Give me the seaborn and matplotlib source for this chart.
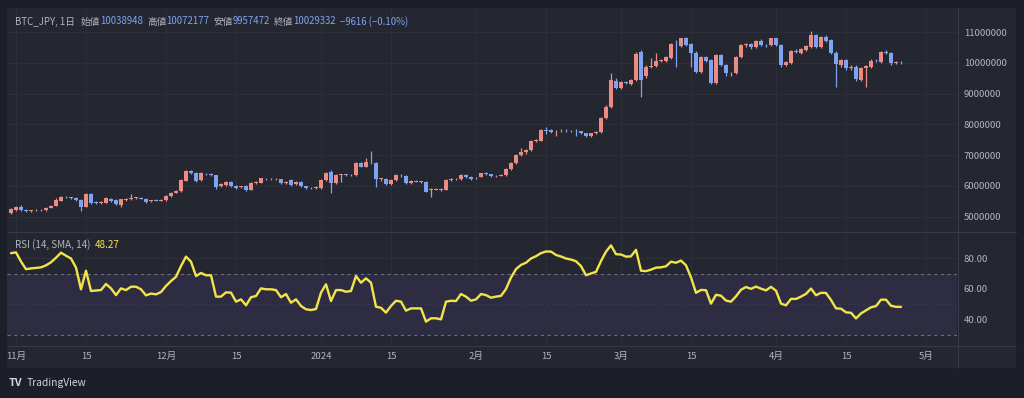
import numpy as np
import pandas as pd
import matplotlib
matplotlib.use("Agg")
import matplotlib.pyplot as plt
from matplotlib.lines import Line2D
from matplotlib.patches import Rectangle
import seaborn as sns

# ---------------- data (prices in 万円 = 10,000 JPY) ----------------
start_date = "2023-10-31"

opens = [510,522,532,521,518,520,522,521,529,535,
         552,564,562,560,554,532,573,546,543,545,
         558,553,538,554,558,560,561,557,549,553,
         552,554,567,577,583,617,649,643,619,640,
         638,634,601,602,614,600,595,599,587,609,
         610,623,622,621,621,608,619,605,613,599,
         592,594,593,619,646,610,635,637,635,635,
         675,662,679,673,621,621,605,619,635,632,
         610,615,613,613,585,588,590,587,619,621,
         621,635,630,624,630,641,638,632,633,635,
         654,673,700,710,718,746,747,781,782,777,
         779,780,779,780,778,771,762,771,775,820,
         856,941,917,937,932,945,1035,958,988,990,
         1008,1008,1015,1060,1056,1080,1062,1034,972,1018,
         1010,934,1026,993,966,968,1018,1059,1062,1051,
         1073,1059,1058,1080,1059,993,1001,1040,1034,1043,
         1053,1091,1051,1084,1075,1034,993,1010,983,988,
         945,983,988,1008,1004,1037,1032,1000,1004]

highs = [527,533,536,524,522,524,524,531,538,560,
         568,567,564,562,557,576,576,550,549,562,
         561,556,558,560,573,564,563,559,555,556,
         557,569,580,587,621,653,652,646,644,643,
         641,636,609,617,617,603,601,602,611,616,
         627,626,625,624,623,616,621,615,615,601,
         596,598,622,646,650,637,640,640,638,678,
         679,689,713,676,627,624,621,637,639,635,
         619,618,617,615,592,592,592,621,624,625,
         637,638,633,630,643,644,640,636,638,657,
         676,703,722,721,748,754,784,793,785,782,
         784,786,783,784,780,773,773,778,823,862,
         966,950,942,941,949,1035,1042,992,1015,1034,
         1014,1022,1064,1075,1083,1084,1066,1038,1022,1022,
         1014,1030,1030,996,972,1022,1062,1066,1065,1076,
         1077,1063,1083,1083,1062,1008,1043,1045,1048,1058,
         1105,1095,1088,1090,1078,1038,1014,1013,992,992,
         988,995,1012,1012,1040,1041,1035,1008,1007]

lows = [507,518,519,515,515,518,518,519,527,533,
        549,559,557,552,518,530,541,540,541,543,
        548,537,532,551,555,557,556,545,546,549,
        549,552,565,575,581,615,640,614,616,634,
        632,590,597,598,597,589,593,584,585,606,
        608,619,618,618,607,605,601,602,597,589,
        589,591,591,617,575,607,612,632,631,633,
        660,660,672,597,617,603,603,617,630,606,
        607,611,610,579,565,585,584,585,616,618,
        619,627,618,621,628,635,630,629,631,633,
        652,671,698,704,715,742,745,770,773,761,
        775,776,774,761,768,759,760,768,773,818,
        852,914,914,930,928,942,888,952,984,987,
        1003,1004,1012,988,1053,1055,988,967,968,1004,
        932,930,989,958,958,964,1015,1052,1046,1048,
        1055,1053,1055,1055,988,990,998,1032,1030,1040,
        1050,1050,1048,1070,1030,923,988,978,978,940,
        940,923,985,1003,1001,1028,995,996,996]

closes = [524,530,521,518,520,522,521,529,535,554,
          565,562,560,555,532,573,545,543,546,559,
          551,541,556,558,560,562,558,548,553,552,
          554,567,578,584,619,649,643,617,641,638,
          636,597,605,614,600,593,598,587,608,612,
          624,622,621,622,610,614,603,613,600,592,
          594,596,620,643,610,635,638,635,636,675,
          662,679,677,621,624,605,619,635,634,608,
          617,613,615,581,589,590,587,619,621,622,
          635,630,621,627,641,638,632,633,635,655,
          673,700,710,718,746,748,782,780,776,779,
          780,779,780,778,771,762,771,775,820,858,
          943,917,939,934,946,1029,945,988,990,1008,
          1010,1018,1062,1058,1080,1059,1031,972,1018,1008,
          936,1026,993,966,968,1018,1059,1062,1051,1073,
          1059,1058,1080,1059,993,1004,1040,1037,1045,1055,
          1091,1053,1084,1073,1034,997,1010,983,988,947,
          983,990,1008,1006,1037,1032,999,1004,1003]

rsi = [83.5,84.0,78.0,73.0,73.5,73.8,74.2,75.5,77.5,80.5,
       83.8,81.8,80.0,74.0,59.8,72.0,58.7,59.0,59.3,63.3,
       60.4,56.0,60.4,59.3,61.5,61.5,59.8,55.8,57.0,56.5,
       58.0,62.0,65.2,68.0,75.0,81.2,77.9,68.5,70.5,69.0,
       69.0,55.0,55.0,57.8,57.6,51.7,53.2,49.3,54.6,55.4,
       60.4,59.8,59.8,59.3,54.6,56.7,51.0,53.2,48.9,46.7,
       46.2,46.9,57.6,63.1,52.1,59.3,59.3,58.2,58.7,68.5,
       64.1,67.0,64.1,48.4,47.7,44.5,48.9,52.3,51.7,45.8,
       47.3,47.3,47.3,38.6,40.8,40.8,40.1,51.7,52.3,52.1,
       56.7,55.0,52.3,53.2,56.7,56.0,54.3,55.0,55.5,60.0,
       67.5,73.0,75.8,77.2,80.0,81.5,83.5,84.6,84.5,82.3,
       81.3,80.0,79.3,78.2,75.0,69.0,70.2,71.2,78.3,84.5,
       88.6,82.8,82.6,81.2,81.4,85.7,72.0,71.7,72.7,74.0,
       74.2,74.9,77.9,77.2,78.6,75.5,67.6,57.5,59.4,59.2,
       50.4,56.2,55.6,52.4,51.7,55.2,59.5,61.3,60.1,61.6,
       60.2,59.1,61.4,58.9,50.4,49.3,53.5,53.5,55.0,56.8,
       60.3,55.9,57.5,57.4,52.8,47.3,47.1,44.7,44.4,40.7,
       44.0,46.0,48.0,48.8,53.0,53.0,49.0,48.3,48.27]

tick_dates = ["2023-11-01","2023-11-15","2023-12-01","2023-12-15","2024-01-01",
              "2024-01-15","2024-02-01","2024-02-15","2024-03-01","2024-03-15",
              "2024-04-01","2024-04-15","2024-05-01"]
tick_labels = ["11月","15","12月","15","2024","15","2月","15","3月","15","4月","15","5月"]
price_ticks = [5000000,6000000,7000000,8000000,9000000,10000000,11000000]
rsi_ticks = [40, 60, 80]
rsi_bands = [30, 70]
rsi_mid = 50

header_parts = [("BTC_JPY, 1日", "g"), ("始値", "g"), ("10038948", "v"),
                ("高値", "g"), ("10072177", "v"), ("安値", "g"), ("9957472", "v"),
                ("終値", "g"), ("10029332", "v"), ("−9616 (−0.10%)", "v")]
rsi_title = "RSI (14, SMA, 14)"
rsi_last = "48.27"

# ---------------- style ----------------
W, H = 1024, 398
OUTER = "#1c1f27"
CARD = "#242730"
GRID = "#2c2f3a"
SEP = "#363a46"
TXT = "#b2b5be"
UP = "#ec8a84"
DOWN = "#7fa3f2"
YEL = "#f2e54a"
BAND = "#2e2c43"

sns.set_theme(style="dark")
plt.rcParams['font.family'] = ['Noto Sans CJK JP', 'DejaVu Sans']
plt.rcParams['axes.unicode_minus'] = True

def fx(px):
    return px / W

def fy(py):
    return 1 - py / H

df = pd.DataFrame({"open": np.array(opens) * 1e4, "high": np.array(highs) * 1e4,
                   "low": np.array(lows) * 1e4, "close": np.array(closes) * 1e4,
                   "rsi": rsi})
df["date"] = pd.date_range(start_date, periods=len(df), freq="D")
df["i"] = np.arange(len(df))
df["up"] = df["close"] >= df["open"]
t0 = pd.Timestamp(start_date)
tick_pos = [(pd.Timestamp(d) - t0).days for d in tick_dates]

fig = plt.figure(figsize=(W / 100, H / 100), dpi=100)
fig.patch.set_facecolor(OUTER)
fig.add_artist(Rectangle((fx(7), fy(368)), fx(1016) - fx(7), fy(8) - fy(368),
                         transform=fig.transFigure, facecolor=CARD, edgecolor="none", zorder=0))

x0, x1 = -0.8, 189.2
ax = fig.add_axes([fx(7), fy(232), fx(957) - fx(7), fy(8) - fy(232)])
ax2 = fig.add_axes([fx(7), fy(345), fx(957) - fx(7), fy(233) - fy(345)])

for a in (ax, ax2):
    a.set_facecolor(CARD)
    for s in a.spines.values():
        s.set_visible(False)
    a.set_xlim(x0, x1)
    for p in tick_pos:
        a.axvline(p, color=GRID, lw=0.8, zorder=0.6)

# price pane
ax.set_ylim(449.6e4, 1179.1e4)
for v in price_ticks:
    ax.axhline(v, color=GRID, lw=0.8, zorder=0)
colors = np.where(df["up"], UP, DOWN)
ax.vlines(df["i"], df["low"], df["high"], colors=colors, lw=0.9, zorder=2)
body_bottom = np.minimum(df["open"], df["close"])
body_h = np.maximum(np.abs(df["close"] - df["open"]), 3500)
ax.bar(df["i"], body_h, bottom=body_bottom, width=0.74, color=colors, edgecolor="none", zorder=3)
ax.yaxis.tick_right()
ax.set_yticks(price_ticks)
ax.set_yticklabels([str(v) for v in price_ticks])
ax.tick_params(axis="y", length=0, pad=5, labelsize=6.9, labelcolor=TXT)
ax.set_xticks([])
ax.set_xlabel("")
ax.set_ylabel("")

# RSI pane
ax2.set_ylim(23.3, 96.7)
ax2.axhspan(rsi_bands[0], rsi_bands[1], color=BAND, lw=0, zorder=0.5)
for v in rsi_ticks:
    ax2.axhline(v, color=GRID, lw=0.8, zorder=0.6)
for b in rsi_bands:
    ax2.axhline(b, color="#6b6e79", lw=0.8, ls=(0, (3, 3)), zorder=1)
ax2.axhline(rsi_mid, color="#3d3c52", lw=0.7, ls=(0, (2, 3)), zorder=1)
sns.lineplot(data=df, x="i", y="rsi", ax=ax2, color=YEL, lw=1.7, zorder=4)
ax2.yaxis.tick_right()
ax2.set_yticks(rsi_ticks)
ax2.set_yticklabels([f"{v:.2f}" for v in rsi_ticks])
ax2.tick_params(axis="y", length=0, pad=5, labelsize=6.9, labelcolor=TXT)
ax2.set_xticks(tick_pos)
ax2.set_xticklabels(tick_labels)
ax2.tick_params(axis="x", length=0, pad=5, labelsize=6.9, labelcolor=TXT)
ax2.set_xlabel("")
ax2.set_ylabel("")

# separators
for (xa, ya, xb, yb) in [(7, 232.5, 1016, 232.5), (7, 345.5, 1016, 345.5), (957.5, 8, 957.5, 368)]:
    fig.add_artist(Line2D([fx(xa), fx(xb)], [fy(ya), fy(yb)], transform=fig.transFigure,
                          color=SEP, lw=0.8, zorder=5))

# header text chained
r = fig.canvas.get_renderer()
def chain(x_px, y_px, parts, size):
    x = x_px
    for txt, col in parts:
        t = fig.text(fx(x), fy(y_px), txt, color=col, fontsize=size, va="center", ha="left")
        bb = t.get_window_extent(renderer=r)
        if txt.endswith("値"):
            gap = 0
        elif txt.startswith("BTC"):
            gap = 6
        else:
            gap = 4
        x = bb.x1 + gap

cmap = {"g": TXT, "v": DOWN}
chain(15, 21.5, [(t, cmap[c]) for t, c in header_parts], 6.95)
chain(15, 245, [(rsi_title, TXT), (rsi_last, YEL)], 7.1)

# logo
fig.text(fx(9), fy(383), "TV", color="#d1d4dc", fontsize=7.8, fontweight="bold", va="center", ha="left")
fig.text(fx(27), fy(383), "TradingView", color="#d1d4dc", fontsize=7.4, va="center", ha="left")

fig.savefig("out.png", dpi=100, facecolor=OUTER)
